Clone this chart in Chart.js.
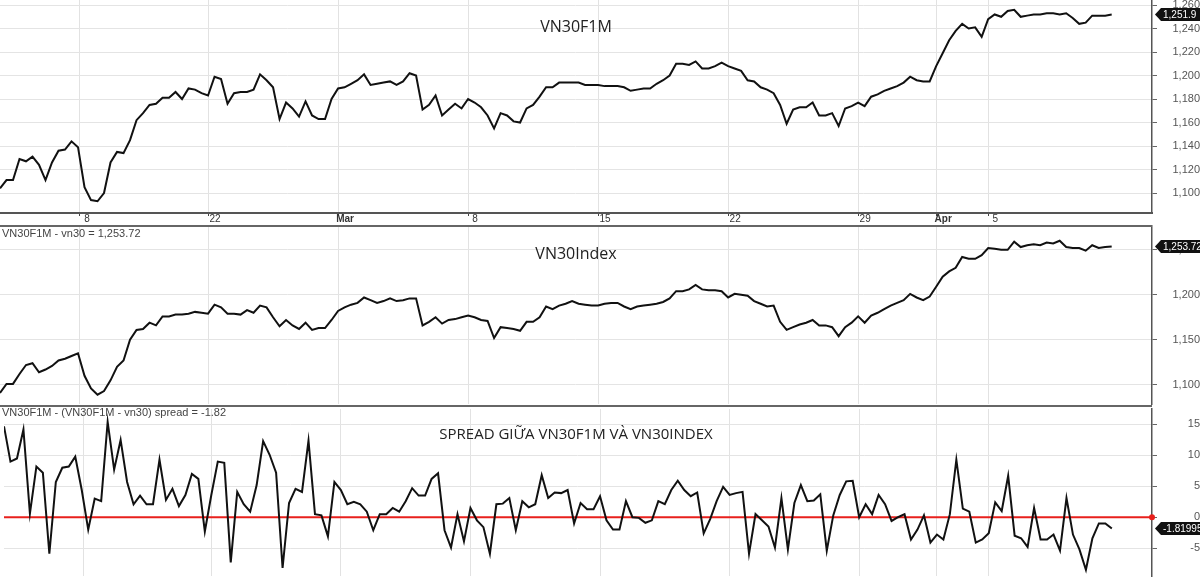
<!DOCTYPE html>
<html>
<head>
<meta charset="utf-8">
<script src="https://cdn.jsdelivr.net/npm/chart.js@4"></script>
<style>
  body { margin: 0; background: #fff; }
  .pane { position: absolute; left: 0; width: 1200px; }
  .title { position: absolute; left: 0; width: 1152px; text-align: center; font-family: 'Open Sans', sans-serif; color: #222; }
  .note { position: absolute; left: 2px; font: 11px 'Liberation Sans', Arial, sans-serif; color: #444; }
</style>
</head>
<body>
<div class="pane" style="top:0;height:225px"><canvas id="futChart"></canvas></div>
<div class="pane" style="top:225px;height:180px"><canvas id="idxChart"></canvas></div>
<div class="pane" style="top:405px;height:175px"><canvas id="sprChart"></canvas></div>
<div class="title" style="top:15px;font-size:16px">VN30F1M</div>
<div class="title" style="top:242px;font-size:16px">VN30Index</div>
<div class="title" style="top:423px;font-size:15px">SPREAD GIỮA VN30F1M VÀ VN30INDEX</div>
<div class="note" style="top:227px">VN30F1M - vn30 = 1,253.72</div>
<div class="note" style="top:406px">VN30F1M - (VN30F1M - vn30) spread = -1.82</div>
<script>
// sessions sampled every quarter trading day (hourly-ish bars)
const futures = [1104,1111,1111,1129,1127,1131,1124,1111,1126,1136,1137,1144,1139,1105,1094,1093,1100,1126,1135,1134,
  1145,1162,1168,1175,1176,1181,1181,1186,1180,1189,1188,1185,1183,1199,1197,1176,1185,1186,1186,1188,
  1201,1196,1190,1163,1177,1172,1165,1178,1166,1163,1163,1180,1189,1190,1193,1196,1201,1192,1193,1194,
  1195,1192,1195,1202,1200,1171,1175,1183,1166,1171,1176,1172,1180,1177,1173,1166,1155,1168,1166,1161,
  1160,1172,1175,1182,1190,1190,1194,1194,1194,1194,1192,1192,1192,1191,1191,1191,1190,1187,1188,1189,
  1189,1193,1196,1200,1210,1210,1209,1212,1206,1206,1208,1211,1208,1206,1204,1196,1195,1190,1188,1185,
  1175,1159,1171,1173,1173,1177,1166,1166,1168,1157,1172,1174,1177,1174,1182,1184,1187,1189,1191,1194,
  1199,1196,1195,1195,1208,1219,1230,1238,1244,1240,1241,1233,1248,1252,1250,1255,1256,1250,1251,1252,
  1252,1253,1253,1252,1253,1249,1244,1245,1251,1251,1251,1251.9];

const vn30 = [1091,1101,1101,1112,1122,1124,1114,1117,1121,1127,1129,1132,1135,1110,1096,1089,1093,1105,1120,1127,
  1150,1161,1162,1169,1166,1176,1176,1178,1178,1179,1181,1180,1179,1189,1186,1179,1179,1178,1183,1180,
  1188,1186,1175,1165,1172,1166,1162,1169,1161,1163,1163,1172,1182,1186,1189,1191,1197,1194,1191,1193,
  1196,1193,1194,1196,1196,1166,1170,1175,1168,1172,1173,1175,1177,1175,1172,1171,1152,1164,1163,1162,
  1160,1170,1170,1175,1187,1184,1188,1190,1193,1190,1189,1188,1188,1190,1191,1191,1187,1184,1187,1188,
  1189,1190,1192,1196,1204,1204,1206,1211,1206,1205,1205,1204,1197,1201,1200,1199,1193,1190,1187,1188,
  1170,1161,1164,1167,1169,1172,1166,1166,1164,1154,1164,1169,1176,1169,1177,1180,1184,1188,1191,1194,
  1201,1197,1194,1198,1209,1220,1226,1230,1242,1240,1240,1244,1252,1251,1250,1250,1259,1253,1255,1256,
  1255,1258,1257,1260,1253,1252,1252,1249,1255,1252,1253,1253.72];

const spread = [14.7,9.0,9.5,14.2,0.6,8.2,7.2,-5.9,5.7,8.0,8.2,9.8,4.4,-2.0,3.0,2.6,15.4,7.7,12.5,5.7,
  2.1,3.5,2.1,2.1,9.3,2.8,4.6,1.8,3.6,7.0,6.2,-2.3,3.6,9.0,8.8,-7.3,4.1,2.1,0.9,5.2,
  12.3,10.1,7.2,-8.2,2.3,4.6,4.1,12.4,0.5,0.3,-3.1,5.7,4.4,2.1,2.5,2.1,0.9,-2.1,0.5,0.5,
  1.5,0.9,2.6,4.7,3.5,3.5,6.2,7.1,-2.1,-4.9,0.5,-3.9,1.5,-0.5,-1.6,-5.9,2.1,2.2,3.1,-2.1,
  2.6,1.6,2.1,6.8,3.1,4.0,3.9,4.4,-1.0,2.3,1.3,1.3,3.4,-0.5,-2.0,-2.0,2.6,0,-0.1,-0.9,
  -0.5,2.6,2.1,4.4,5.9,4.4,3.4,4.0,-2.6,-0.3,2.6,4.9,3.6,3.9,4.1,-5.9,0.5,-0.5,-1.5,-4.9,
  3.1,-5.2,2.3,5.2,2.6,2.7,3.7,-5.4,0.3,3.6,5.8,5.9,0,2.1,0.5,3.6,2.1,-0.6,0,0.5,
  -3.6,-2.0,0.3,-4.1,-2.8,-3.6,0.5,9.3,1.4,0.9,-4.1,-3.6,-2.6,2.4,1.0,6.7,-3.0,-3.4,-4.8,1.5,
  -3.6,-3.6,-2.8,-5.4,3.1,-2.8,-5.2,-8.5,-3.4,-1.0,-1.0,-1.82];

const zeroLevel = 0;

// date ticks, in bar units (4 bars per session)
const dateTickPos = [12.3, 32, 52, 72, 92, 112, 132, 144, 152];
const dateTickLabels = ['8', '22', 'Mar', '8', '15', '22', '29', 'Apr', '5'];

const futTag = '1,251.9';
const idxTag = '1,253.72';
const sprTag = '-1.81995';

const xMax = 177.2;
const toPoints = (arr) => arr.map((v, i) => ({ x: i, y: v }));

// black price flag on the right axis
const tagPlugin = {
  id: 'tag',
  afterDraw(chart, args, opts) {
    const { ctx, chartArea } = chart;
    const y = chart.scales.y.getPixelForValue(opts.value);
    const x = chartArea.right + 3;
    ctx.save();
    ctx.font = '10px "Liberation Sans", Arial, sans-serif';
    const w = ctx.measureText(opts.text).width + 6;
    ctx.fillStyle = '#111';
    ctx.beginPath();
    ctx.moveTo(x, y);
    ctx.lineTo(x + 6, y - 6.5);
    ctx.lineTo(x + 6 + w, y - 6.5);
    ctx.lineTo(x + 6 + w, y + 6.5);
    ctx.lineTo(x + 6, y + 6.5);
    ctx.closePath();
    ctx.fill();
    ctx.fillStyle = '#fff';
    ctx.textBaseline = 'middle';
    ctx.fillText(opts.text, x + 8, y + 0.5);
    ctx.restore();
  },
};

// separator line on top of the pane
const frameTop = {
  id: 'frameTop',
  afterDraw(chart, args, opts) {
    if (!opts.show) return;
    const { ctx, chartArea } = chart;
    ctx.save();
    ctx.strokeStyle = '#666';
    ctx.lineWidth = 2;
    ctx.beginPath();
    ctx.moveTo(0, 1);
    ctx.lineTo(chartArea.right, 1);
    ctx.stroke();
    ctx.restore();
  },
};

const makeOptions = (yMin, yMax, step, tag, showDates, topLine) => ({
  responsive: true,
  maintainAspectRatio: false,
  animation: false,
  layout: { padding: 0 },
  plugins: {
    legend: { display: false },
    tooltip: { enabled: false },
    tag: tag,
    frameTop: { show: topLine },
  },
  scales: {
    x: {
      type: 'linear',
      min: 0,
      max: xMax,
      afterBuildTicks: (scale) => { scale.ticks = dateTickPos.map((v) => ({ value: v })); },
      afterFit: (scale) => {
        scale.height = showDates ? 12 : 1;
        scale.paddingLeft = 0;
        scale.paddingRight = 0;
      },
      grid: { color: '#e2e2e2', drawTicks: showDates, tickLength: 3, tickColor: '#444' },
      border: { display: showDates, color: '#555', width: 2 },
      ticks: {
        display: showDates,
        autoSkip: false,
        maxRotation: 0,
        padding: -3,
        labelOffset: 7,
        color: '#333',
        callback: (v, i) => dateTickLabels[i],
        font: (c) => ({
          size: 10,
          family: '"Liberation Sans", Arial, sans-serif',
          weight: c.tick && (c.tick.label === 'Mar' || c.tick.label === 'Apr') ? 'bold' : 'normal',
        }),
      },
    },
    y: {
      position: 'right',
      min: yMin,
      max: yMax,
      afterFit: (scale) => {
        scale.width = 48;
        scale.paddingTop = 0;
        scale.paddingBottom = 0;
      },
      afterBuildTicks: (scale) => {
        const t = [];
        for (let v = Math.ceil(yMin / step) * step; v <= yMax; v += step) t.push({ value: v });
        scale.ticks = t;
      },
      grid: { color: '#e4e4e4', tickLength: 5, tickColor: '#666' },
      border: { color: '#555', width: 1.5 },
      ticks: {
        crossAlign: 'far',
        color: '#555',
        padding: 4,
        font: { size: 11, family: '"Liberation Sans", Arial, sans-serif' },
      },
    },
  },
});

const lineSet = (arr) => ({
  data: toPoints(arr),
  borderColor: '#111',
  borderWidth: 2,
  pointRadius: 0,
  tension: 0,
});

new Chart('futChart', {
  type: 'line',
  data: { datasets: [lineSet(futures)] },
  options: makeOptions(1083, 1264.3, 20, { value: 1251.9, text: futTag }, true, false),
  plugins: [tagPlugin, frameTop],
});

new Chart('idxChart', {
  type: 'line',
  data: { datasets: [lineSet(vn30)] },
  options: makeOptions(1078.7, 1277.5, 50, { value: 1253.72, text: idxTag }, false, true),
  plugins: [tagPlugin, frameTop],
});

new Chart('sprChart', {
  type: 'line',
  data: {
    datasets: [
      lineSet(spread),
      {
        data: [{ x: 0, y: zeroLevel }, { x: xMax, y: zeroLevel }],
        borderColor: '#e8201c',
        borderWidth: 2,
        pointRadius: [0, 3],
        pointBackgroundColor: '#e8201c',
        pointBorderWidth: 0,
        clip: false,
      },
    ],
  },
  options: makeOptions(-9.5, 17.5, 5, { value: -1.81995, text: sprTag }, false, true),
  plugins: [tagPlugin, frameTop],
});
</script>
</body>
</html>
